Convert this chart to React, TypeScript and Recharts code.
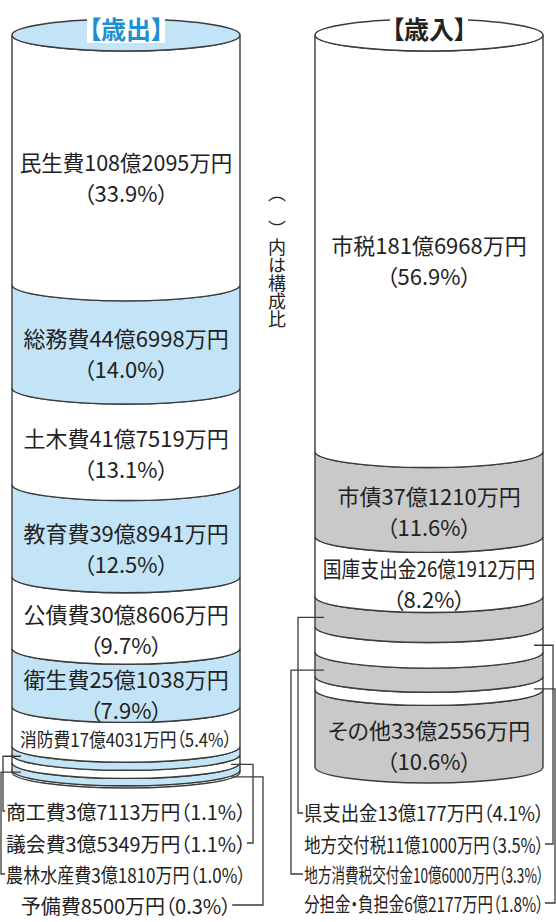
import { Bar, BarChart, Customized, XAxis, YAxis } from "recharts";

// 歳出 (expenditure), top to bottom
const expenseNames = ["民生費", "総務費", "土木費", "教育費", "公債費", "衛生費", "消防費", "商工費", "議会費", "農林水産費", "予備費"];
const expenseAmounts = ["108億2095万円", "44億6998万円", "41億7519万円", "39億8941万円", "30億8606万円", "25億1038万円", "17億4031万円", "3億7113万円", "3億5349万円", "3億1810万円", "8500万円"];
const expenseShares = [33.9, 14.0, 13.1, 12.5, 9.7, 7.9, 5.4, 1.1, 1.1, 1.0, 0.3];

// 歳入 (revenue), top to bottom
const revenueNames = ["市税", "市債", "国庫支出金", "県支出金", "地方交付税", "地方消費税交付金", "分担金・負担金", "その他"];
const revenueAmounts = ["181億6968万円", "37億1210万円", "26億1912万円", "13億177万円", "11億1000万円", "10億6000万円", "6億2177万円", "33億2556万円"];
const revenueShares = [56.9, 11.6, 8.2, 4.1, 3.5, 3.3, 1.8, 10.6];

const noteText = "（　）内は構成比";

const CAP_RY = 16;
const BLUE = "#c3e4f6";
const GRAY = "#c9c9c9";
const LINE = "#3c3c3c";
const INK = "#222";
const FONT = '"Noto Sans CJK JP", "Noto Sans CJK SC", sans-serif';

type Callout = { side: "left" | "right"; lineX: number; rowY: number };

type Spec = {
  title: string;
  titleColor: string;
  names: string[];
  amounts: string[];
  shares: number[];
  fills: [string, string];
  capFill: string;
  callouts: Record<number, Callout>;
  rowShift: number;
};

function estimateWidth(s: string, size: number) {
  let w = 0;
  for (const ch of s) {
    if (/[0-9]/.test(ch)) w += 0.55;
    else if (ch === ".") w += 0.27;
    else if (ch === "%") w += 0.85;
    else if ("（）【】・".includes(ch)) w += 0.5;
    else w += 1;
  }
  return w * size;
}

// squeezes a label horizontally (like the condensed print font) when it would not fit
function FitText(props: {
  x: number;
  y: number;
  text: string;
  size: number;
  maxWidth: number;
  weight?: number;
  fill?: string;
}) {
  const { x, y, text, size, maxWidth, weight, fill } = props;
  const est = estimateWidth(text, size);
  const sx = est > maxWidth ? maxWidth / est : 1;
  return (
    <text
      x={0}
      y={0}
      transform={`translate(${x},${y}) scale(${sx},1)`}
      textAnchor="middle"
      dominantBaseline="central"
      fontSize={size}
      fontWeight={weight}
      fontFamily={FONT}
      fill={fill ?? INK}
      style={{ fontFeatureSettings: '"palt"' }}
    >
      {text}
    </text>
  );
}

function makeShape(spec: Spec, i: number) {
  return (props: any) => {
    const { x, y, width, height } = props;
    const top = Math.min(y, y + height);
    const h = Math.abs(height);
    const bottom = top + h;
    const rx = width / 2;
    const cx = x + rx;
    const ry = CAP_RY;
    const d = `M${x},${top} A${rx},${ry} 0 0 0 ${x + width},${top} L${x + width},${bottom} A${rx},${ry} 0 0 1 ${x},${bottom} Z`;
    const share = spec.shares[i];
    const pct = `（${share.toFixed(1)}%）`;
    const main = spec.names[i] + spec.amounts[i];
    const mid = top + h / 2 + 16;
    const c = spec.callouts[i];

    let label = null;
    if (share >= 7) {
      label = (
        <g>
          <FitText x={cx} y={mid - 15} text={main} size={22} maxWidth={212} />
          <FitText x={cx} y={mid + 16} text={pct} size={22} maxWidth={212} />
        </g>
      );
    } else if (!c) {
      label = <FitText x={cx} y={mid - 4} text={main + pct} size={19} maxWidth={210} />;
    } else {
      const rowText = main + pct;
      const rowX = cx + spec.rowShift;
      const tw = Math.min(estimateWidth(rowText, 20), 238);
      const ly = top + h / 2 + 6;
      const inX = c.side === "left" ? x + 9 : x + width - 9;
      const edge = c.side === "left" ? rowX - tw / 2 - 2 : rowX + tw / 2 + 2;
      label = (
        <g>
          <path d={`M${inX},${ly} H${c.lineX} V${c.rowY} H${edge}`} fill="none" stroke={LINE} strokeWidth={1.3} />
          <FitText x={rowX} y={c.rowY} text={rowText} size={20} maxWidth={238} />
        </g>
      );
    }

    return (
      <g>
        <path d={d} fill={spec.fills[i % 2]} stroke={LINE} strokeWidth={1.4} />
        {i === 0 && (
          <g>
            <ellipse cx={cx} cy={top} rx={rx} ry={CAP_RY} fill={spec.capFill} stroke={LINE} strokeWidth={1.4} />
            <rect x={cx - 39} y={top - 22} width={78} height={30} fill="#fff" />
            <FitText x={cx} y={top - 7} text={`【${spec.title}】`} size={25} maxWidth={80} weight={700} fill={spec.titleColor} />
          </g>
        )}
        {label}
      </g>
    );
  };
}

function Column(props: { spec: Spec; left: number; width: number; margin: any; children?: any }) {
  const { spec, left, width, margin, children } = props;
  const row: Record<string, any> = { name: spec.title };
  spec.shares.forEach((v, i) => {
    row[`s${i}`] = v;
  });
  const order = spec.shares.map((_, i) => i).reverse();
  return (
    <div style={{ position: "absolute", left, top: 0 }}>
      <BarChart width={width} height={922} data={[row]} margin={margin} barSize={228}>
        <XAxis dataKey="name" hide />
        <YAxis type="number" domain={[0, 100]} hide />
        {order.map((i) => (
          <Bar key={i} dataKey={`s${i}`} stackId="col" isAnimationActive={false} shape={makeShape(spec, i)} />
        ))}
        {children}
      </BarChart>
    </div>
  );
}

const expenseSpec: Spec = {
  title: "歳出",
  titleColor: "#1e8fd3",
  names: expenseNames,
  amounts: expenseAmounts,
  shares: expenseShares,
  fills: ["#ffffff", BLUE],
  capFill: BLUE,
  callouts: {
    7: { side: "left", lineX: 3, rowY: 811 },
    8: { side: "right", lineX: 253, rowY: 843 },
    9: { side: "left", lineX: 1, rowY: 874 },
    10: { side: "right", lineX: 263, rowY: 905 },
  },
  rowShift: 0,
};

const revenueSpec: Spec = {
  title: "歳入",
  titleColor: INK,
  names: revenueNames,
  amounts: revenueAmounts,
  shares: revenueShares,
  fills: ["#ffffff", GRAY],
  capFill: "#ffffff",
  callouts: {
    3: { side: "left", lineX: 8, rowY: 813 },
    4: { side: "right", lineX: 263, rowY: 844 },
    5: { side: "left", lineX: 1, rowY: 874 },
    6: { side: "right", lineX: 265, rowY: 903 },
  },
  rowShift: -5,
};

function Note() {
  return (
    <text
      x={277}
      y={184}
      fontSize={18}
      fontFamily={FONT}
      fill={INK}
      style={{ writingMode: "vertical-rl" }}
    >
      {noteText}
    </text>
  );
}

export default function App() {
  return (
    <div style={{ position: "absolute", left: 0, top: 0, width: 556, height: 922, background: "#fff" }}>
      <Column spec={expenseSpec} left={0} width={290} margin={{ top: 35, bottom: 150, left: 0, right: 38 }}>
        <Customized component={Note} />
      </Column>
      <Column spec={revenueSpec} left={290} width={266} margin={{ top: 35, bottom: 155, left: 13, right: 1 }} />
    </div>
  );
}
